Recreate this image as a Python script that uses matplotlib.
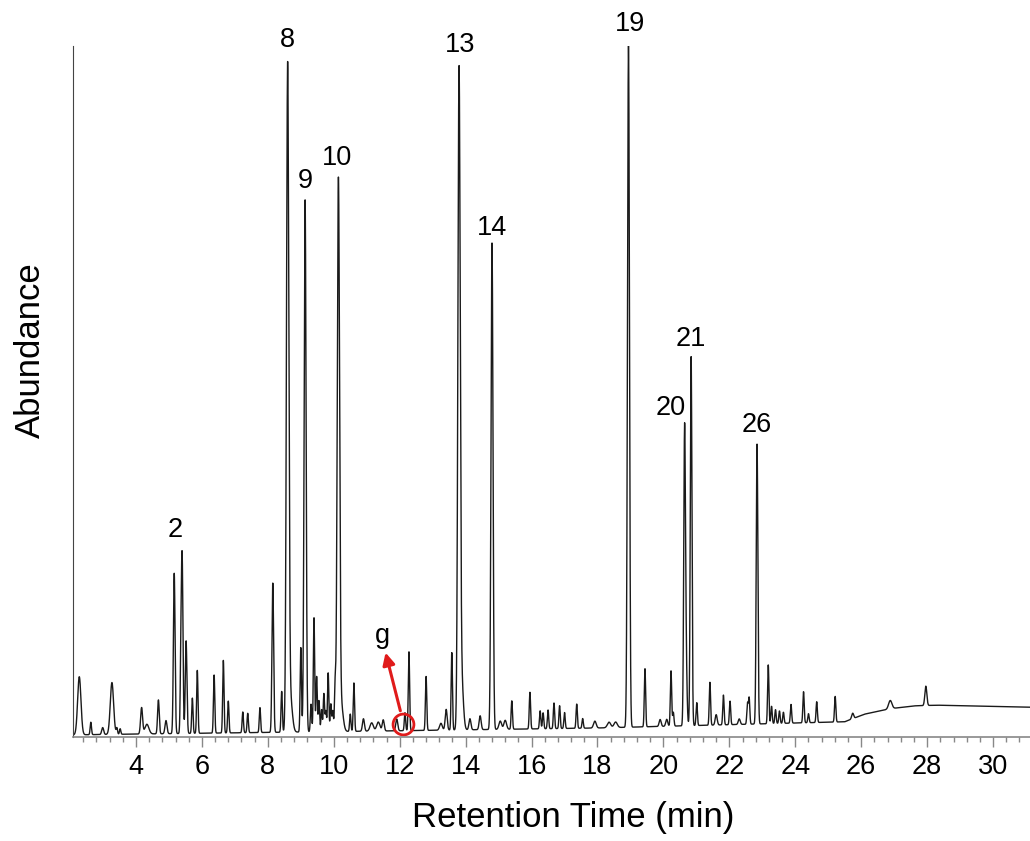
import matplotlib.pyplot as plt
import numpy as np

plt.rcParams["font.family"] = ["Liberation Sans", "DejaVu Sans"]

# Peak table: retention time (min), height above baseline, width (sigma, min)
peak_rt = [2.28, 2.63, 2.99, 3.27, 3.42, 3.52, 4.17, 4.33, 4.68, 4.91, 5.16, 5.36, 5.40, 5.52,
           5.71, 5.86, 6.37, 6.65, 6.80, 7.24, 7.39, 7.76, 8.15, 8.42, 8.60, 8.68, 9.00, 9.13,
           9.31, 9.40, 9.48, 9.55, 9.63, 9.70, 9.76, 9.83, 9.91, 9.97, 10.04, 10.14, 10.22,
           10.50, 10.61, 10.90, 11.15, 11.35, 11.50, 11.91, 12.16, 12.28, 12.80, 13.25, 13.41,
           13.58, 13.80, 13.88, 14.13, 14.44, 14.80, 15.05, 15.20, 15.40, 15.95, 16.26, 16.35,
           16.50, 16.68, 16.85, 17.00, 17.37, 17.55, 17.92, 18.35, 18.55, 18.94, 19.44, 19.90,
           20.10, 20.23, 20.30, 20.64, 20.68, 20.84, 21.01, 21.41, 21.60, 21.82, 22.02, 22.30,
           22.55, 22.60, 22.84, 23.18, 23.28, 23.40, 23.52, 23.64, 23.87, 24.25, 24.40, 24.65,
           25.21, 25.74, 26.88, 27.96]
peak_height = [8.4, 1.8, 1.0, 7.5, 0.9, 0.8, 3.8, 1.4, 4.9, 1.9, 23.2, 8.0, 25.2, 13.4,
               5.1, 9.1, 8.4, 10.5, 4.6, 3.0, 2.8, 3.6, 21.6, 5.9, 95.0, 5.0, 12.2, 77.0,
               4.0, 16.5, 8.0, 4.5, 3.2, 5.5, 3.0, 8.5, 4.0, 3.0, 6.5, 78.6, 4.0,
               2.5, 7.0, 1.8, 1.2, 1.3, 1.6, 1.7, 2.6, 11.4, 7.8, 1.0, 3.0,
               11.2, 94.2, 7.0, 1.6, 2.0, 70.4, 1.2, 1.3, 4.1, 5.3, 2.6, 2.3,
               2.7, 3.7, 3.3, 2.3, 3.5, 1.4, 1.0, 0.8, 0.8, 98.6, 8.4, 1.0,
               1.0, 8.0, 2.0, 39.0, 11.0, 53.4, 3.3, 6.2, 1.5, 4.3, 3.4, 0.8,
               3.0, 3.8, 40.5, 8.5, 2.5, 2.0, 1.8, 1.6, 2.7, 4.5, 1.3, 3.0,
               3.7, 0.8, 1.2, 2.8]
peak_width = [0.05, 0.02, 0.03, 0.05, 0.02, 0.02, 0.03, 0.06, 0.025, 0.03, 0.025, 0.02, 0.025, 0.025,
              0.02, 0.02, 0.02, 0.02, 0.02, 0.02, 0.02, 0.02, 0.025, 0.02, 0.035, 0.06, 0.02, 0.03,
              0.02, 0.02, 0.02, 0.02, 0.02, 0.02, 0.02, 0.02, 0.02, 0.02, 0.02, 0.035, 0.06,
              0.02, 0.02, 0.03, 0.05, 0.05, 0.03, 0.03, 0.02, 0.02, 0.02, 0.04, 0.03,
              0.02, 0.035, 0.05, 0.03, 0.03, 0.03, 0.04, 0.04, 0.02, 0.02, 0.02, 0.02,
              0.02, 0.02, 0.02, 0.02, 0.02, 0.02, 0.04, 0.05, 0.05, 0.03, 0.02, 0.03,
              0.03, 0.02, 0.02, 0.025, 0.03, 0.025, 0.02, 0.02, 0.03, 0.02, 0.02, 0.03,
              0.02, 0.02, 0.025, 0.02, 0.02, 0.02, 0.02, 0.02, 0.02, 0.02, 0.02, 0.02,
              0.02, 0.03, 0.05, 0.03]

# Baseline level read at a few retention times
base_rt = [2.0, 12.0, 18.0, 23.0, 25.5, 26.1, 26.9, 27.6, 28.3, 31.2]
base_level = [0.3, 0.9, 1.3, 1.9, 2.2, 3.3, 4.1, 4.5, 4.6, 4.3]

# Peak number labels
label_text = ["2", "8", "9", "10", "13", "14", "19", "20", "21", "26"]
label_rt = [5.18, 8.58, 9.13, 10.10, 13.83, 14.80, 18.99, 20.23, 20.84, 22.84]
label_y = [30.0, 100.9, 80.5, 83.8, 100.1, 73.7, 103.2, 47.6, 57.6, 45.2]

t = np.arange(2.0, 31.2, 0.002)
signal = np.interp(t, base_rt, base_level)
for rt, h, w in zip(peak_rt, peak_height, peak_width):
    signal = signal + h * np.exp(-0.5 * ((t - rt) / w) ** 2)

fig = plt.figure(figsize=(10.30, 8.41), dpi=100)
ax = fig.add_axes([0.0709, 0.1237, 0.9291, 0.8216])

ax.plot(t, signal, color="#1a1a1a", lw=1.0)

ax.set_xlim(2.09, 31.12)
ax.set_ylim(0, 100)

ax.spines["top"].set_visible(False)
ax.spines["right"].set_visible(False)
ax.spines["left"].set_color("#444444")
ax.spines["bottom"].set_color("#888888")
ax.spines["bottom"].set_linewidth(1.2)
ax.set_yticks([])

ax.set_xticks(np.arange(4, 31, 2))
ax.set_xticks(np.arange(2.4, 31.2, 0.4), minor=True)
ax.tick_params(axis="x", which="major", length=7, width=1, color="#888888",
               labelsize=19.5, pad=5)
ax.tick_params(axis="x", which="minor", length=3.6, width=1, color="#888888")

for txt, x, y in zip(label_text, label_rt, label_y):
    ax.text(x, y, txt, ha="center", va="center", fontsize=19.5, clip_on=False)

# marker for peak g
red = "#e01b1b"
ax.plot([12.1], [1.9], marker="o", ms=15, mfc="none", mec=red, mew=2)
ax.annotate("", xy=(11.55, 12.6), xytext=(12.04, 3.4),
            arrowprops=dict(arrowstyle="-|>", color=red, lw=2.2, mutation_scale=18))
ax.text(11.49, 14.6, "g", ha="center", va="center", fontsize=19.5)

fig.text(573 / 1030, 1 - 818 / 841, "Retention Time (min)", ha="center", va="center",
         fontsize=25)
fig.text(30 / 1030, 1 - 350 / 841, "Abundance", ha="center", va="center",
         rotation=90, fontsize=25)

fig.savefig("out.png", dpi=100)
